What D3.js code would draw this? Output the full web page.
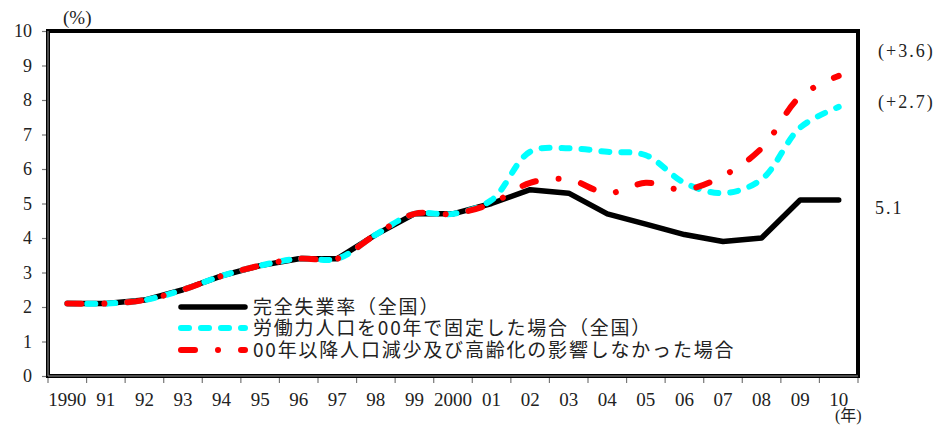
<!DOCTYPE html>
<html>
<head>
<meta charset="utf-8">
<script src="https://cdn.jsdelivr.net/npm/d3@7"></script>
<style>
  html, body { margin: 0; padding: 0; background: #fff; }
  svg { display: block; }
</style>
</head>
<body>
<svg id="chart" width="935" height="427"></svg>
<script>
// Years on the horizontal axis and their printed labels
const years = [1990, 1991, 1992, 1993, 1994, 1995, 1996, 1997, 1998, 1999, 2000,
               2001, 2002, 2003, 2004, 2005, 2006, 2007, 2008, 2009, 2010];
const yearLabels = ["1990", "91", "92", "93", "94", "95", "96", "97", "98", "99", "2000",
                    "01", "02", "03", "04", "05", "06", "07", "08", "09", "10"];

// Unemployment rate (%), actual, nationwide
const actualRate = [2.1, 2.1, 2.2, 2.5, 2.9, 3.2, 3.4, 3.4, 4.1, 4.7, 4.7,
                    5.0, 5.4, 5.3, 4.7, 4.4, 4.1, 3.9, 4.0, 5.1, 5.1];
// Labour force held at its 2000 level
const fixedLaborForce = [2.1, 2.1, 2.2, 2.5, 2.9, 3.2, 3.4, 3.4, 4.1, 4.7, 4.7,
                         5.1, 6.5, 6.6, 6.5, 6.4, 5.6, 5.3, 5.7, 7.2, 7.8];
// No population decline / ageing after 2000
const noDemographicShift = [2.1, 2.1, 2.2, 2.5, 2.9, 3.2, 3.4, 3.4, 4.1, 4.7, 4.7,
                            5.0, 5.6, 5.7, 5.3, 5.6, 5.4, 5.8, 6.6, 8.1, 8.7];

const seriesNames = ["完全失業率（全国）",
                     "労働力人口を00年で固定した場合（全国）",
                     "00年以降人口減少及び高齢化の影響しなかった場合"];
const yTicks = [0, 1, 2, 3, 4, 5, 6, 7, 8, 9, 10];
const endLabels = ["(+3.6)", "(+2.7)", "5.1"];

const svg = d3.select("#chart");
const serif = "'Liberation Serif', 'DejaVu Serif', serif";
const cjk = "'Noto Sans CJK JP', 'Noto Sans', sans-serif";

const plot = { left: 48, right: 858, top: 31, bottom: 376 };

const x = d3.scaleBand().domain(years).range([plot.left, plot.right]);
const xc = d => x(d) + x.bandwidth() / 2;
const y = d3.scaleLinear().domain([0, 10]).range([plot.bottom, plot.top]);

// Y axis ticks and labels
const yAxis = d3.axisLeft(y).tickValues(yTicks).tickSize(5).tickPadding(10).tickFormat(d3.format("d"));
const gy = svg.append("g").attr("transform", `translate(${plot.left - 1},0)`).call(yAxis);
gy.select(".domain").remove();
gy.selectAll(".tick line").attr("stroke", "#777").attr("stroke-width", 1.2);
gy.selectAll(".tick text").attr("font-family", serif).attr("font-size", 18).attr("fill", "#222");

// X axis: ticks on category boundaries, labels centred on each year
const boundaries = years.map(d => x(d)).concat([plot.right]);
svg.append("g").selectAll("line").data(boundaries).join("line")
  .attr("x1", d => d).attr("x2", d => d)
  .attr("y1", plot.bottom).attr("y2", plot.bottom + 7)
  .attr("stroke", "#777").attr("stroke-width", 1.2);
svg.append("g").selectAll("text").data(years).join("text")
  .attr("x", d => xc(d)).attr("y", 406)
  .attr("text-anchor", "middle")
  .attr("font-family", serif).attr("font-size", 19).attr("fill", "#222")
  .text((d, i) => yearLabels[i]);

// Plot frame
svg.append("rect")
  .attr("x", plot.left).attr("y", plot.top)
  .attr("width", plot.right - plot.left).attr("height", plot.bottom - plot.top)
  .attr("fill", "none").attr("stroke", "#000").attr("stroke-width", 4);
svg.append("line").attr("x1", plot.left).attr("x2", plot.left)
  .attr("y1", plot.top).attr("y2", plot.bottom)
  .attr("stroke", "#999").attr("stroke-width", 1);
svg.append("line").attr("x1", plot.left).attr("x2", plot.right)
  .attr("y1", plot.bottom).attr("y2", plot.bottom)
  .attr("stroke", "#999").attr("stroke-width", 1);

// Series lines
const straight = d3.line().x((d, i) => xc(years[i])).y(d => y(d));
const smooth = d3.line().x((d, i) => xc(years[i])).y(d => y(d)).curve(d3.curveCatmullRom);

const styles = [
  { data: actualRate, gen: straight, color: "#000000", width: 5.5, dash: null },
  { data: fixedLaborForce, gen: smooth, color: "#00ffff", width: 6, dash: "8,12" },
  { data: noDemographicShift, gen: smooth, color: "#ff0000", width: 6, dash: "14,23,0.01,23" }
];

styles.forEach(s => {
  svg.append("path")
    .attr("d", s.gen(s.data))
    .attr("fill", "none")
    .attr("stroke", s.color)
    .attr("stroke-width", s.width)
    .attr("stroke-linecap", "round")
    .attr("stroke-linejoin", "round")
    .attr("stroke-dasharray", s.dash);
});

// Legend
const legendRows = [307, 328, 350];
styles.forEach((s, i) => {
  svg.append("line")
    .attr("x1", 181).attr("x2", 245)
    .attr("y1", legendRows[i]).attr("y2", legendRows[i])
    .attr("stroke", s.color).attr("stroke-width", s.width)
    .attr("stroke-linecap", "round")
    .attr("stroke-dasharray", s.dash);
  svg.append("text")
    .attr("x", 253).attr("y", legendRows[i])
    .attr("dy", "0.36em")
    .attr("font-family", cjk).attr("font-size", 19).attr("letter-spacing", 1.8)
    .attr("fill", "#222")
    .text(seriesNames[i]);
});

// Values at the right of the plot
const endY = [51, 102, 208];
endLabels.forEach((t, i) => {
  svg.append("text")
    .attr("x", i < 2 ? 878 : 875).attr("y", endY[i]).attr("dy", "0.35em")
    .attr("font-family", serif).attr("font-size", 18).attr("letter-spacing", 2)
    .attr("fill", "#222")
    .text(t);
});

// Unit labels
svg.append("text").attr("x", 63).attr("y", 24)
  .attr("font-family", serif).attr("font-size", 19).attr("fill", "#222").text("(%)");
svg.append("text").attr("x", 835).attr("y", 421)
  .attr("font-family", serif).attr("font-size", 16).attr("fill", "#222")
  .text("(").append("tspan").attr("font-family", cjk).text("年")
  .append("tspan").attr("font-family", serif).text(")");
</script>
</body>
</html>
